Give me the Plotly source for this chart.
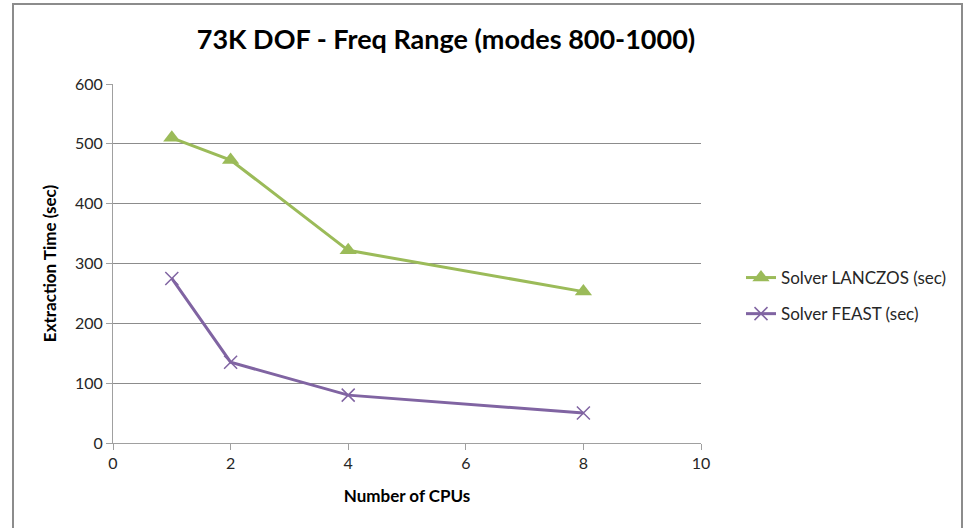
import plotly.graph_objects as go

cpus = [1, 2, 4, 8]
lanczos = [510, 473, 322, 253]
feast = [275, 135, 80, 50]

W, H = 965, 528
L, R, T, B = 113, 264, 84, 85
pw, ph = W - L - R, H - T - B

fig = go.Figure()
fig.add_trace(go.Scatter(
    x=cpus, y=lanczos, mode="lines+markers", name="Solver LANCZOS (sec)",
    line=dict(color="#9BBB59", width=3),
    marker=dict(symbol="triangle-up", size=15, color="#9BBB59"),
    legendgroup="a"))
fig.add_trace(go.Scatter(
    x=cpus, y=feast, mode="lines+markers", name="Solver FEAST (sec)",
    line=dict(color="#8064A2", width=3),
    marker=dict(symbol="x-thin-open", size=13, color="#8064A2",
                line=dict(color="#8064A2", width=1.5)),
    legendgroup="b"))

font = "Lato, 'Open Sans', sans-serif"
fig.update_layout(
    width=W, height=H,
    margin=dict(l=L, r=R, t=T, b=B, autoexpand=False),
    paper_bgcolor="white", plot_bgcolor="white",
    font=dict(family=font, size=16, color="#262626"),
    title=dict(text="<b>73K DOF - Freq Range (modes 800-1000)</b>",
               x=446 / W, xanchor="center", xref="container",
               y=1 - 40 / H, yanchor="middle", yref="container",
               font=dict(size=27, color="#000000", family=font)),
    xaxis=dict(range=[0, 10], dtick=2, tick0=0, showgrid=False,
               showline=True, linecolor="#A0A0A0", linewidth=1,
               ticks="outside", ticklen=6, tickcolor="#A0A0A0",
               zeroline=False, tickfont=dict(size=16),
               title=dict(text="<b>Number of CPUs</b>", standoff=18,
                          font=dict(size=17, color="#000000"))),
    yaxis=dict(range=[0, 600], dtick=100, tick0=0, showgrid=True,
               gridcolor="#8C8C8C", gridwidth=1,
               showline=True, linecolor="#A0A0A0", linewidth=1,
               ticks="outside", ticklen=6, tickcolor="#A0A0A0",
               zeroline=False, tickfont=dict(size=16),
               title=dict(text="<b>Extraction Time (sec)</b>", standoff=14,
                          font=dict(size=17, color="#000000"))),
    legend=dict(x=(741 - L) / pw, xanchor="left", y=(H - B - 296) / ph,
                yanchor="middle", tracegroupgap=11,
                font=dict(size=17, color="#262626"), bgcolor="rgba(0,0,0,0)"),
    shapes=[dict(type="rect", xref="paper", yref="paper",
                 x0=(13 - L) / pw, x1=(962 - L) / pw,
                 y0=(H - B - 535) / ph, y1=(H - B - 4) / ph,
                 line=dict(color="#8C8C8C", width=2), layer="below")],
)
fig.write_html("out.html", config={"displayModeBar": False},
               post_script="document.body.style.margin='0';document.body.style.overflow='hidden';")
